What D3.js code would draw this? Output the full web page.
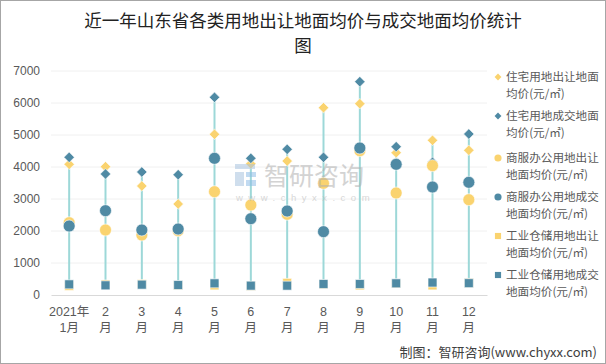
<!DOCTYPE html>
<html><head><meta charset="utf-8">
<script src="https://cdn.jsdelivr.net/npm/d3@7"></script>
<style>
html,body{margin:0;padding:0;background:#fff;}
svg{display:block;font-family:"Liberation Sans","Noto Sans CJK SC",sans-serif;}
</style></head>
<body><svg id="c" width="606" height="364"></svg>
<script>
const months = [["2021年","1月"],["2","月"],["3","月"],["4","月"],["5","月"],["6","月"],["7","月"],["8","月"],["9","月"],["10","月"],["11","月"],["12","月"]];
const yTicks = [0,1000,2000,3000,4000,5000,6000,7000];
const resSell = [4083, 4010, 3406, 2844, 5021, 4100, 4187, 5854, 5979, 4448, 4833, 4521];
const resDeal = [4302, 3781, 3844, 3760, 6177, 4271, 4552, 4302, 6667, 4635, 4146, 5031];
const comSell = [2260, 2031, 1875, 2010, 3229, 2812, 2521, 3490, 4510, 3188, 4042, 2979];
const comDeal = [2156, 2635, 2031, 2062, 4271, 2385, 2625, 1979, 4594, 4083, 3375, 3521];
const indSell = [280, 330, 340, 300, 300, 280, 380, 330, 300, 360, 300, 380];
const indDeal = [333, 302, 323, 312, 365, 292, 292, 344, 344, 365, 390, 370];
const legendLines = [["住宅用地出让地面","均价(元/㎡)"],["住宅用地成交地面","均价(元/㎡)"],["商服办公用地出让","地面均价(元/㎡)"],["商服办公用地成交","地面均价(元/㎡)"],["工业仓储用地出让","地面均价(元/㎡)"],["工业仓储用地成交","地面均价(元/㎡)"]];

const YEL = "#fad36f", BLU = "#4f8aa4", LINE = "#9dd8d8";
const series = [
  {vals: resSell, color: YEL, shape: "diamond"},
  {vals: resDeal, color: BLU, shape: "diamond"},
  {vals: comSell, color: YEL, shape: "circle"},
  {vals: comDeal, color: BLU, shape: "circle"},
  {vals: indSell, color: YEL, shape: "square"},
  {vals: indDeal, color: BLU, shape: "square"}
];

const svg = d3.select("#c");
svg.append("rect").attr("x",0.5).attr("y",0.5).attr("width",605).attr("height",363)
  .attr("fill","#fff").attr("stroke","#a6a6a6").attr("stroke-width",1);

// title
const title = svg.append("text").attr("text-anchor","middle")
  .attr("font-family","'Noto Sans CJK SC',sans-serif").attr("font-size",17.5).attr("fill","#222");
title.append("tspan").attr("x",303).attr("y",27).text("近一年山东省各类用地出让地面均价与成交地面均价统计");
title.append("tspan").attr("x",303).attr("y",52).text("图");

const x = d3.scaleBand().domain(d3.range(12)).range([51,487]);
const y = d3.scaleLinear().domain([0,7000]).range([295,71]);
const cx = i => x(i) + x.bandwidth()/2;

// gridlines
svg.append("g").selectAll("line").data(yTicks.filter(d=>d>0)).join("line")
  .attr("x1",51).attr("x2",487).attr("y1",d=>y(d)).attr("y2",d=>y(d))
  .attr("stroke","#f0f0f0").attr("stroke-width",1);

// y axis labels
const yAxis = svg.append("g").attr("transform","translate(51,0)")
  .call(d3.axisLeft(y).tickValues(yTicks).tickFormat(d3.format("d")).tickSize(0).tickPadding(11));
yAxis.select(".domain").remove();
yAxis.selectAll("text").attr("font-size",12).attr("fill","#595959")
  .attr("font-family","'Liberation Sans',sans-serif");

// x axis
const xAxis = svg.append("g").attr("transform","translate(0,295)")
  .call(d3.axisBottom(x).tickSize(0).tickFormat(""));
xAxis.select(".domain").attr("stroke","#d9d9d9").attr("stroke-width",1.2);
const xl = svg.append("g").selectAll("text").data(months).join("text")
  .attr("text-anchor","middle").attr("font-size",12.5).attr("fill","#595959")
  .attr("font-family","'Liberation Sans','Noto Sans CJK SC',sans-serif");
xl.append("tspan").attr("x",(d,i)=>cx(i)).attr("y",316).text(d=>d[0]);
xl.append("tspan").attr("x",(d,i)=>cx(i)).attr("y",332).text(d=>d[1]);

// high-low lines
svg.append("g").selectAll("line").data(d3.range(12)).join("line")
  .attr("x1",cx).attr("x2",cx)
  .attr("y1",i=>y(d3.max(series,s=>s.vals[i])))
  .attr("y2",i=>y(d3.min(series,s=>s.vals[i])))
  .attr("stroke",LINE).attr("stroke-width",2);

const sym = {
  diamond: d3.symbol().type(d3.symbolDiamond2).size(70),
  circle: d3.symbol().type(d3.symbolCircle).size(112),
  square: d3.symbol().type(d3.symbolSquare).size(80)
};
series.forEach(s=>{
  svg.append("g").selectAll("path").data(s.vals).join("path")
    .attr("d", sym[s.shape])
    .attr("transform",(v,i)=>`translate(${cx(i)},${y(v)})`)
    .attr("fill",s.color).attr("stroke","#fff").attr("stroke-width",0.6);
});

// watermark
const wm = svg.append("g").attr("opacity",0.55);
wm.append("rect").attr("x",235).attr("y",164).attr("width",20).attr("height",5).attr("fill","#a9c4e0");
wm.append("rect").attr("x",235).attr("y",172).attr("width",9).attr("height",14).attr("fill","#a9c4e0");
wm.append("rect").attr("x",246).attr("y",172).attr("width",10).attr("height",5).attr("fill","#8fbde6");
wm.append("rect").attr("x",246).attr("y",180).attr("width",10).attr("height",6).attr("fill","#8fbde6");
wm.append("text").attr("x",264).attr("y",185).attr("font-size",25)
  .attr("font-family","'Noto Sans CJK SC',sans-serif").attr("fill","#b0b0b0").text("智研咨询");
wm.append("text").attr("x",236).attr("y",201).attr("font-size",9.5).attr("letter-spacing",5.5)
  .attr("font-family","'Liberation Sans',sans-serif").attr("fill","#b8b8b8").text("www.chyxx.com");

// legend
const lg = svg.append("g");
const legY = [81,120,162,201,240,279];
series.forEach((s,i)=>{
  const sz = s.shape==="circle"?40:(s.shape==="square"?38:30);
  const shp = s.shape==="diamond"?d3.symbolDiamond2:(s.shape==="circle"?d3.symbolCircle:d3.symbolSquare);
  lg.append("path").attr("d",d3.symbol().type(shp).size(sz)())
    .attr("transform",`translate(498,${legY[i]-4})`).attr("fill",s.color);
  const t = lg.append("text").attr("font-size",11.6).attr("fill","#595959")
    .attr("font-family","'Noto Sans CJK SC',sans-serif");
  t.append("tspan").attr("x",506).attr("y",legY[i]).text(legendLines[i][0]);
  t.append("tspan").attr("x",506).attr("y",legY[i]+17).text(legendLines[i][1]);
});

// source
svg.append("text").attr("x",597).attr("y",357).attr("text-anchor","end")
  .attr("font-size",13).attr("fill","#404040")
  .attr("font-family","'Noto Sans CJK SC',sans-serif").text("制图：智研咨询(www.chyxx.com)");
</script></body></html>
